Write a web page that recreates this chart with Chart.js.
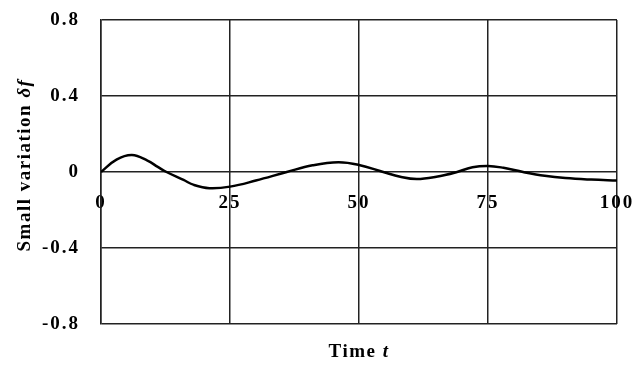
<!DOCTYPE html>
<html>
<head>
<meta charset="utf-8">
<script src="https://cdn.jsdelivr.net/npm/chart.js@4/dist/chart.umd.min.js"></script>
<style>
  html, body { margin: 0; padding: 0; background: #fff; }
  #wrap { width: 642px; height: 365px; }
</style>
</head>
<body>
<div id="wrap"><canvas id="chart"></canvas></div>
<script>
// Valeurs (temps t, variation δf)
const tempos = [0, 3, 6, 9, 11, 12.7, 16, 18, 21, 25, 30, 36, 41, 46, 50, 54.7, 58, 61.2, 65, 69, 72, 75, 78, 81.8, 86, 90, 95, 100];
const variacao = [0, 0.065, 0.089, 0.06, 0.027, 0, -0.042, -0.068, -0.085, -0.077, -0.045, 0, 0.035, 0.051, 0.037, 0, -0.025, -0.037, -0.025, 0, 0.025, 0.032, 0.022, 0, -0.02, -0.032, -0.04, -0.045];
const xTicks = [0, 25, 50, 75, 100];
const yTicks = [-0.8, -0.4, 0, 0.4, 0.8];

const fonte = "'Liberation Serif', 'Times New Roman', serif";

// espacement des lettres, comme sur l'image
const espacamento = {
  id: 'espacamento',
  beforeLayout(chart) { chart.ctx.letterSpacing = '2px'; },
  beforeDraw(chart) { chart.ctx.letterSpacing = '2px'; }
};

// pas de marge automatique autour de la zone du graphique
function semMargem(scale) {
  scale.paddingTop = 0;
  scale.paddingBottom = 0;
  scale.paddingLeft = 0;
  scale.paddingRight = 0;
}

// titres des axes avec une partie en italique
const titulos = {
  id: 'titulos',
  afterDraw(chart) {
    const ctx = chart.ctx;
    const area = chart.chartArea;
    ctx.save();
    ctx.fillStyle = '#000';
    ctx.textBaseline = 'middle';
    ctx.letterSpacing = '1.5px';

    // titre x
    const partesX = [['bold 19px ' + fonte, 'Time '], ['bold italic 19px ' + fonte, 't']];
    let larg = 0;
    partesX.forEach(p => { ctx.font = p[0]; larg += ctx.measureText(p[1]).width; });
    let x = (area.left + area.right) / 2 - larg / 2;
    partesX.forEach(p => {
      ctx.font = p[0];
      ctx.textAlign = 'left';
      ctx.fillText(p[1], x, 352);
      x += ctx.measureText(p[1]).width;
    });

    // titre y
    const partesY = [['bold 19px ' + fonte, 'Small variation '], ['bold italic 19px ' + fonte, 'δf']];
    larg = 0;
    partesY.forEach(p => { ctx.font = p[0]; larg += ctx.measureText(p[1]).width; });
    ctx.translate(25, 165);
    ctx.rotate(-Math.PI / 2);
    x = -larg / 2;
    partesY.forEach(p => {
      ctx.font = p[0];
      ctx.textAlign = 'left';
      ctx.fillText(p[1], x, 0);
      x += ctx.measureText(p[1]).width;
    });
    ctx.restore();
  }
};

const ctx = document.getElementById('chart').getContext('2d');
new Chart(ctx, {
  type: 'line',
  data: {
    datasets: [{
      data: tempos.map((t, i) => ({ x: t, y: variacao[i] })),
      borderColor: '#000',
      borderWidth: 2.5,
      pointRadius: 0,
      fill: false,
      tension: 0.4
    }]
  },
  options: {
    responsive: true,
    maintainAspectRatio: false,
    animation: false,
    layout: { padding: { top: 20, right: 25, bottom: 41, left: 0 } },
    plugins: {
      legend: { display: false },
      tooltip: { enabled: false }
    },
    scales: {
      x: {
        type: 'linear',
        position: { y: 0 },
        min: 0,
        max: 100,
        afterBuildTicks: scale => { scale.ticks = xTicks.map(v => ({ value: v })); },
        afterFit: semMargem,
        grid: { color: '#222', lineWidth: 1.5, drawTicks: false },
        border: { display: false },
        ticks: {
          color: '#000',
          padding: 20,
          maxRotation: 0,
          font: { family: fonte, size: 19, weight: 'bold' }
        }
      },
      y: {
        min: -0.8,
        max: 0.8,
        afterBuildTicks: scale => { scale.ticks = yTicks.map(v => ({ value: v })); },
        afterFit: scale => { scale.width = 101; semMargem(scale); },
        grid: { color: '#222', lineWidth: 1.5, drawTicks: false },
        border: { color: '#222', width: 1.5 },
        ticks: {
          color: '#000',
          padding: 21,
          callback: v => String(v),
          font: { family: fonte, size: 19, weight: 'bold' }
        }
      }
    }
  },
  plugins: [espacamento, titulos]
});
</script>
</body>
</html>
